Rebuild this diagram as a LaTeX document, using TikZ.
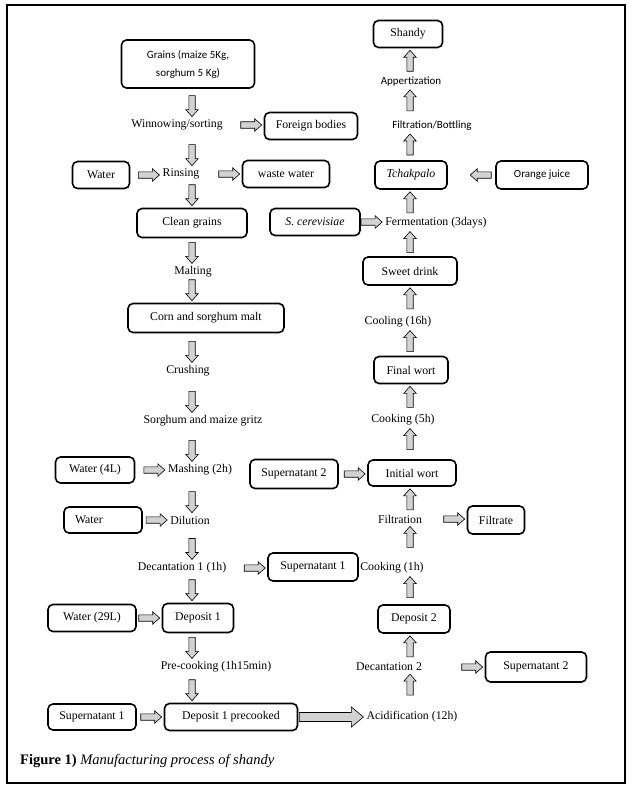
\documentclass[tikz,border=0pt]{standalone}
\usepackage{fontspec}
\setmainfont{Liberation Serif}
\newfontfamily\calibri{Carlito}
\usetikzlibrary{calc}

% block arrow sizes
\def\arrbw{3.2pt}
\def\arrhw{6.2pt}
\def\arrhl{7pt}
\newcommand\fatbody{(\p1) ++(\n1-90:\arrbw) -- ++(\n1:\n2) -- ++(\n1-90:\arrhw-\arrbw) -- (\p2)
  -- ($(\p2)+(\n1+180:\arrhl)+(\n1+90:\arrhw)$) -- ++(\n1-90:\arrhw-\arrbw) -- ++(\n1+180:\n2) -- cycle}

\tikzset{
  box/.style={draw, rounded corners=5pt, line width=1.6pt, minimum height=27pt, inner sep=2pt, align=center},
  stage/.style={inner sep=1pt},
  sans/.style={font=\fontsize{11}{13}\calibri},
  arrlen/.store in=\arrlen, arrlen=21pt,
  fat/.style={draw=black, line width=0.6pt, fill=gray!35, to path={
      let \p2=($(\tikztotarget)!2pt!(\tikztostart)$), \p1=($(\p2)!\arrlen!(\tikztostart)$),
          \n1={atan2(\y2-\y1,\x2-\x1)}, \n2={veclen(\x2-\x1,\y2-\y1)-\arrhl} in \fatbody}},
  fatstart/.style={draw=black, line width=0.6pt, fill=gray!35, to path={
      let \p1=($(\tikztostart)!4pt!(\tikztotarget)$), \p2=($(\p1)!\arrlen!(\tikztotarget)$),
          \n1={atan2(\y2-\y1,\x2-\x1)}, \n2={veclen(\x2-\x1,\y2-\y1)-\arrhl} in \fatbody}},
  big/.style={arrlen=64pt, /utils/exec={\def\arrbw{4.5pt}\def\arrhw{10pt}\def\arrhl{12pt}}},
}

\begin{document}
\begin{tikzpicture}[x=1pt, y=-1pt, font=\fontsize{11.8}{14}\selectfont]
  \fill[white] (0,0) rectangle (633,789);
  \useasboundingbox (0,0) rectangle (633,789);
  \draw[line width=1.1pt] (7,5) rectangle (625,783);
  \coordinate (L) at (192,0);
  \coordinate (R) at (410,0);

  % left column
  \node[box, sans, font=\fontsize{11}{18}\calibri, minimum width=133pt, minimum height=48pt] (grains) at (188,64) {Grains (maize 5Kg,\\sorghum 5 Kg)};
  \node[stage] (winnow) at (177,125) {Winnowing/sorting};
  \node[box, minimum width=93pt] (foreign) at (311,126) {Foreign bodies};
  \node[box, minimum width=57pt] (water1) at (101,175) {Water};
  \node[stage] (rinsing) at (181,174) {Rinsing};
  \node[box, minimum width=87pt] (waste) at (286,174) {waste water};
  \node[box, minimum width=110pt, minimum height=29pt] (clean) at (192,223) {Clean grains};
  \node[stage] (malting) at (193,272) {Malting};
  \node[box, minimum width=156pt, minimum height=29pt] (malt) at (206,318) {Corn and sorghum malt};
  \node[stage] (crushing) at (188,371) {Crushing};
  \node[stage] (gritz) at (203,421) {Sorghum and maize gritz};
  \node[box, minimum width=79pt, minimum height=26pt] (water4) at (95,470) {Water (4L)};
  \node[stage] (mashing) at (200,470) {Mashing (2h)};
  \node[box, minimum height=26pt, inner xsep=11pt, text width=56pt, align=left] (water2) at (103,520) {Water};
  \node[stage] (dilution) at (190,520) {Dilution};
  \node[stage] (decant1) at (182,568) {Decantation 1 (1h)};
  \node[box, minimum width=90pt, minimum height=28pt] (sup1a) at (313,567) {Supernatant 1};
  \node[box, minimum width=88pt] (water29) at (92,618) {Water (29L)};
  \node[box, minimum width=71pt, minimum height=29pt] (dep1) at (198,618) {Deposit 1};
  \node[stage] (precook) at (216,667) {Pre-cooking (1h15min)};
  \node[box, minimum width=88pt, minimum height=26pt] (sup1b) at (92,717) {Supernatant 1};
  \node[box, minimum width=133pt] (dep1p) at (231,717) {Deposit 1 precooked};

  % right column
  \node[stage] (acid) at (412,717) {Acidification (12h)};
  \node[stage] (decant2) at (389,667) {Decantation 2};
  \node[box, minimum width=101pt, minimum height=30pt] (sup2b) at (536,667) {Supernatant 2};
  \node[box, minimum width=72pt, minimum height=28pt] (dep2) at (414,619) {Deposit 2};
  \node[stage] (cook1) at (392,568) {Cooking (1h)};
  \node[stage] (filtration) at (400,519) {Filtration};
  \node[box, minimum width=57pt, minimum height=28pt] (filtrate) at (496,520) {Filtrate};
  \node[box, minimum width=88pt, minimum height=26pt] (initwort) at (412,473) {Initial wort};
  \node[box, minimum width=88pt, minimum height=29pt] (sup2a) at (294,474) {Supernatant 2};
  \node[stage] (cook5) at (403,420) {Cooking (5h)};
  \node[box, minimum width=74pt] (finalwort) at (411,370) {Final wort};
  \node[stage] (cooling) at (398,322) {Cooling (16h)};
  \node[box, minimum width=94pt, minimum height=28pt] (sweet) at (410,271) {Sweet drink};
  \node[stage] (ferment) at (436,223) {Fermentation (3days)};
  \node[box, minimum width=90pt] (scer) at (315,222) {\textit{S. cerevisiae}};
  \node[box, minimum width=72pt, minimum height=28pt] (tchak) at (411,175) {\textit{Tchakpalo}};
  \node[box, sans, minimum width=92pt, minimum height=28pt] (orange) at (542,175) {Orange juice};
  \node[stage, sans] (filtbott) at (432,126) {Filtration/Bottling};
  \node[stage, sans] (appert) at (411,82) {Appertization};
  \node[box, minimum width=69pt] (shandy) at (408,34) {Shandy};

  \node[anchor=west, inner sep=0pt, font=\fontsize{14.5}{16}\selectfont] (caption) at (20,761)
    {\textbf{Figure 1)} \textit{Manufacturing process of shandy}};

  % arrows
  \foreach \a/\b in {grains/winnow, winnow/rinsing, rinsing/clean, clean/malting, malting/malt,
      malt/crushing, crushing/gritz, gritz/mashing, mashing/dilution, dilution/decant1,
      decant1/dep1, dep1/precook, precook/dep1p}
    \draw[fat] (\a.south -| L) to (\b.north -| L);
  \foreach \a/\b in {acid/decant2, decant2/dep2, dep2/cook1, cook1/filtration, filtration/initwort,
      initwort/cook5, cook5/finalwort, finalwort/cooling, cooling/sweet, sweet/ferment,
      ferment/tchak, tchak/filtbott, filtbott/appert, appert/shandy}
    \draw[fat] (\a.north -| R) to (\b.south -| R);
  \foreach \a/\b in {winnow/foreign, water1/rinsing, rinsing/waste, water4/mashing, water2/dilution,
      decant1/sup1a, water29/dep1, sup1b/dep1p, decant2/sup2b, filtration/filtrate,
      sup2a/initwort, scer/ferment}
    \draw[fat] (\a.east) to (\a.east -| \b.west);
  \draw[fatstart] (orange.west) to (orange.west -| tchak.east);
  \draw[fat, big] (dep1p.east) to (acid.west);
\end{tikzpicture}
\end{document}
